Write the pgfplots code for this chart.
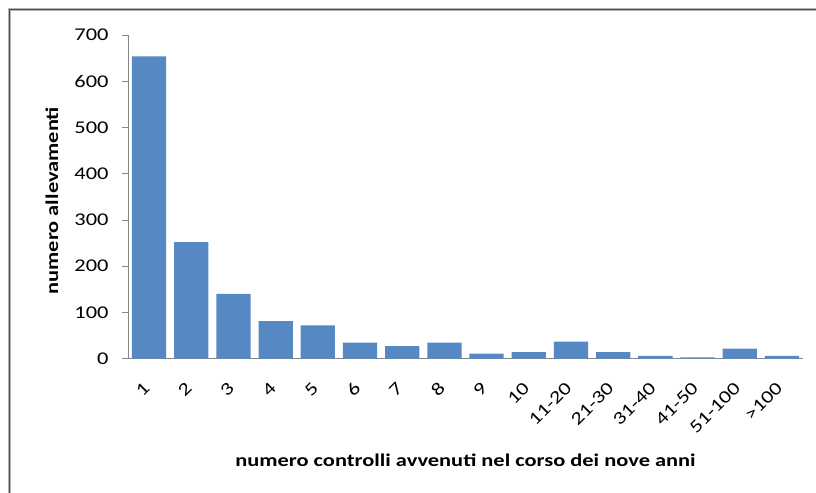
\documentclass[border=0pt]{standalone}
\usepackage{fontspec}
\setmainfont{Carlito}[FakeStretch=1.25]
\usepackage{pgfplots}
\pgfplotsset{compat=1.18}
\definecolor{barblue}{RGB}{86,137,196}
\definecolor{axgray}{RGB}{134,134,134}
\begin{document}
\begin{tikzpicture}
\useasboundingbox (0,0) rectangle (816bp,493bp);
\fill[white] (0,0) rectangle (816bp,493bp);
\draw[gray!60, line width=3bp] (9bp,-5bp) -- (9bp,483.5bp) -- (830bp,483.5bp);
\draw[black!70, line width=1bp] (9bp,-5bp) -- (9bp,483.5bp) -- (830bp,483.5bp);
\begin{axis}[
  at={(128bp,134.3bp)}, anchor=south west,
  scale only axis, width=675bp, height=323.7bp,
  xmin=-0.5, xmax=15.5, ymin=0, ymax=700,
  axis x line=bottom, axis y line=left,
  axis line style={axgray, line width=0.8bp, -},
  ytick={0,100,...,700},
  xtick={0,...,15},
  xticklabels={1,2,3,4,5,6,7,8,9,10,11-20,21-30,31-40,41-50,51-100,>100},
  major x tick style={draw=none},
  tick align=outside, major tick length=6bp,
  y tick style={axgray, line width=0.8bp},
  tick label style={font=\fontsize{18}{21}\selectfont, /pgf/number format/assume math mode=true},
  xticklabel style={xshift=0bp, yshift=-18bp, rotate=45, anchor=east},
  yticklabel style={xshift=-10bp},
  xlabel={numero controlli avvenuti nel corso dei nove anni},
  ylabel={numero allevamenti},
  label style={font=\fontsize{18}{21}\selectfont\bfseries},
  xlabel style={at={(axis description cs:0.5,0)}, anchor=center, yshift=-102bp},
  ylabel style={at={(axis description cs:-0.1126,0.488)}, anchor=center},
]
\addplot[ybar, bar width=34.3bp, fill=barblue, draw=none] coordinates {
(0,654) (1,252) (2,140) (3,81) (4,72) (5,35) (6,27) (7,35)
(8,11) (9,14) (10,37) (11,14) (12,6) (13,3) (14,22) (15,6)
};
\end{axis}
\end{tikzpicture}
\end{document}
